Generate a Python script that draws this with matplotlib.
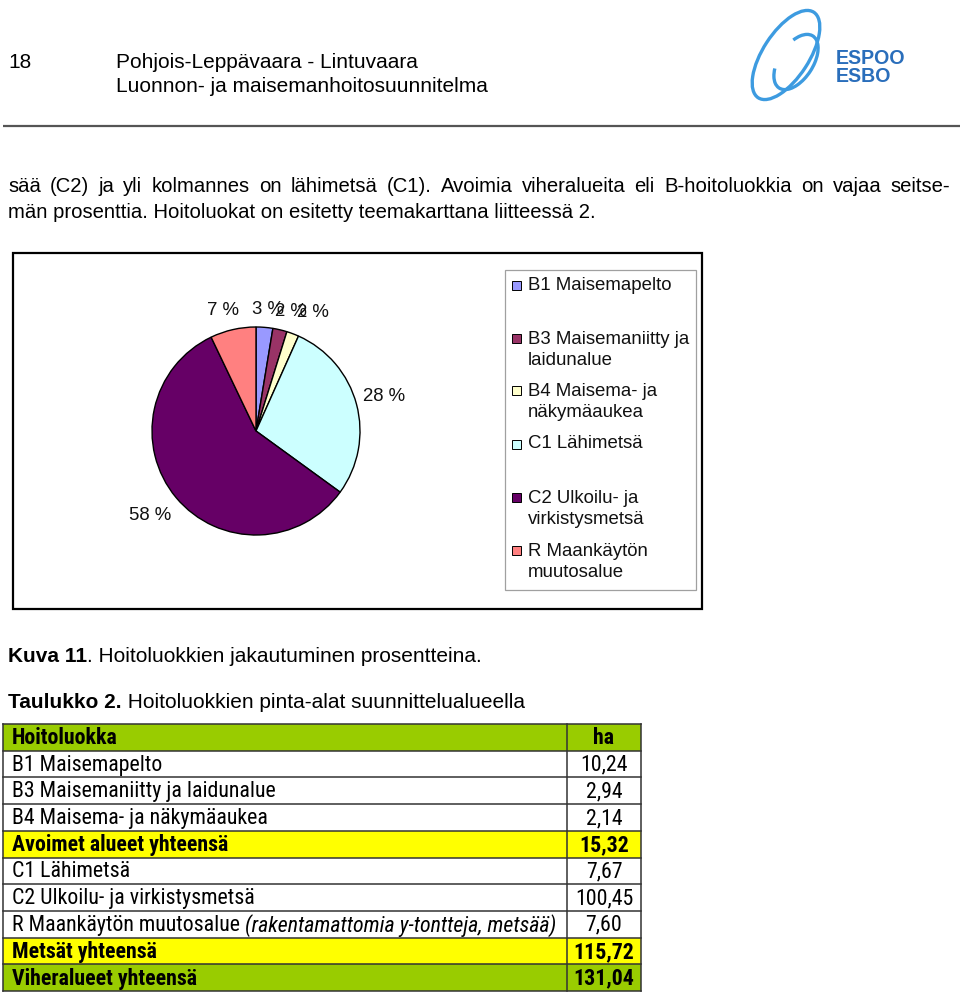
import matplotlib
matplotlib.use("Agg")
import matplotlib.pyplot as plt
from matplotlib.patches import Rectangle, Ellipse, Arc
from matplotlib import font_manager as fm

# ---------------- data ----------------
pie_categories = ["B1 Maisemapelto", "B3 Maisemaniitty ja\nlaidunalue", "B4 Maisema- ja\nnäkymäaukea",
                  "C1 Lähimetsä", "C2 Ulkoilu- ja\nvirkistysmetsä", "R Maankäytön\nmuutosalue"]
pie_values = [2.6, 2.2, 1.9, 28.3, 57.9, 7.1]
pie_labels = ["3 %", "2 %", "2 %", "28 %", "58 %", "7 %"]
pie_colors = ["#9999FF", "#993366", "#FFFFCC", "#CCFFFF", "#660066", "#FF8080"]

table_header = ["Hoitoluokka", "ha"]
table_rows = ["B1 Maisemapelto", "B3 Maisemaniitty ja laidunalue", "B4 Maisema- ja näkymäaukea",
              "Avoimet alueet yhteensä", "C1 Lähimetsä", "C2 Ulkoilu- ja virkistysmetsä",
              "R Maankäytön muutosalue", "Metsät yhteensä", "Viheralueet yhteensä"]
table_notes = ["", "", "", "", "", "", " (rakentamattomia y-tontteja, metsää)", "", ""]
table_ha = [10.24, 2.94, 2.14, 15.32, 7.67, 100.45, 7.60, 115.72, 131.04]
table_kind = ["n", "n", "n", "sub", "n", "n", "n", "sub", "tot"]

W, H = 960, 994
fig = plt.figure(figsize=(W / 100, H / 100), dpi=100)
ax = fig.add_axes([0, 0, 1, 1])
ax.set_xlim(0, W)
ax.set_ylim(H, 0)
ax.axis("off")
renderer = fig.canvas.get_renderer()

SANS = dict(family=["Liberation Sans", "DejaVu Sans"])


def find_narrow():
    for fam in ["Liberation Sans Narrow", "Arial Narrow", "DejaVu Sans Condensed", "Roboto Condensed",
                "Open Sans Condensed", "Noto Sans Condensed"]:
        try:
            fm.findfont(fm.FontProperties(family=fam), fallback_to_default=False)
            return dict(family=[fam, "DejaVu Sans"])
        except Exception:
            pass
    for fam in ["Noto Sans", "Open Sans", "DejaVu Sans", "Roboto"]:
        try:
            p = fm.findfont(fm.FontProperties(family=fam, stretch="condensed"), fallback_to_default=False)
            if "ondensed" in p or "arrow" in p:
                return dict(family=[fam, "DejaVu Sans"], stretch="condensed")
        except Exception:
            pass
    return SANS


NARROW = find_narrow()


def width_of(s, size, fd=SANS, weight="normal", style="normal"):
    t = ax.text(0, 0, s, fontsize=size, fontweight=weight, fontstyle=style, **fd)
    w = t.get_window_extent(renderer).width
    t.remove()
    return w


def fit(s, target, fd=SANS, weight="normal"):
    return 10 * target / width_of(s, 10, fd, weight)


def runs(x, y, parts, size, fd=SANS, color="black"):
    cx = x
    for s, w, st in parts:
        t = ax.text(cx, y, s, fontsize=size, fontweight=w, fontstyle=st,
                    va="center", ha="left", color=color, **fd)
        cx += t.get_window_extent(renderer).width
    return cx


# ---------------- header ----------------
hsize = fit("Pohjois-Leppävaara - Lintuvaara", 302)
ax.text(8, 63, "18", fontsize=hsize, va="center", **SANS)
ax.text(116, 63, "Pohjois-Leppävaara - Lintuvaara", fontsize=hsize, va="center", **SANS)
ax.text(116, 87, "Luonnon- ja maisemanhoitosuunnitelma", fontsize=hsize, va="center", **SANS)
ax.plot([3, 960], [125.5, 125.5], color="#555555", lw=1.6, solid_capstyle="butt")

# logo
logo_c = "#3D9BE0"
ax.add_patch(Ellipse((786, 55), 102, 46, angle=-57, fill=False, ec=logo_c, lw=2.4))
ax.add_patch(Arc((796, 62), 62, 34, angle=-57, theta1=-40, theta2=220, ec=logo_c, lw=2.4))
lsize = fit("ESPOO", 70, weight="bold")
ax.text(836, 58, "ESPOO", fontsize=lsize, fontweight="bold", color="#2A6EBB", va="center", **SANS)
ax.text(836, 77, "ESBO", fontsize=lsize, fontweight="bold", color="#2A6EBB", va="center", **SANS)

# ---------------- body text ----------------
bsize = fit("män prosenttia. Hoitoluokat on esitetty teemakarttana liitteessä 2.", 589)
line1 = "sää (C2) ja yli kolmannes on lähimetsä (C1). Avoimia viheralueita eli B-hoitoluokkia on vajaa seitse-"
words = line1.split(" ")
ws = [width_of(w_, bsize) for w_ in words]
gap = (942 - sum(ws)) / (len(words) - 1)
cx = 8
for w_, wd in zip(words, ws):
    ax.text(cx, 187, w_, fontsize=bsize, va="center", **SANS)
    cx += wd + gap
ax.text(8, 212, "män prosenttia. Hoitoluokat on esitetty teemakarttana liitteessä 2.",
        fontsize=bsize, va="center", **SANS)

# ---------------- chart frame ----------------
ax.add_patch(Rectangle((13, 253), 702 - 13, 609 - 253, fill=False, ec="black", lw=1.6))
ax.add_patch(Rectangle((505, 270), 696 - 505, 590 - 270, fill=False, ec="#A0A0A0", lw=0.9))

legsize = fit("B1 Maisemapelto", 144)
leg_y = [285, 350, 402, 444, 509, 562]
for cat, col, yy in zip(pie_categories, pie_colors, leg_y):
    nlines = cat.count("\n") + 1
    top = yy - (nlines - 1) * 11.5
    ax.add_patch(Rectangle((512, top - 4.5), 9, 9, fc=col, ec="black", lw=0.7))
    ax.text(528, yy, cat, fontsize=legsize, va="center", ha="left",
            linespacing=1.25, color="#111111", **SANS)

R_PX = 104
pax = fig.add_axes([(256 - R_PX) / W, 1 - (431 + R_PX) / H, 2 * R_PX / W, 2 * R_PX / H])
wedges, texts = pax.pie(pie_values, colors=pie_colors, startangle=90, counterclock=False,
                        labels=pie_labels, labeldistance=1.27,
                        wedgeprops=dict(edgecolor="black", linewidth=1.0),
                        textprops=dict(fontsize=legsize, color="#111111", **SANS))
label_nudge_px = [(1, 10), (5, 9), (10, 5), (0, 0), (-4, 0), (-4, 8)]
for t, (dx, dy) in zip(texts, label_nudge_px):
    t.set_ha("center")
    t.set_va("center")
    x, y = t.get_position()
    t.set_position((x + dx / R_PX, y - dy / R_PX))
pax.set_xlim(-1.0, 1.0)
pax.set_ylim(-1.0, 1.0)

# ---------------- captions ----------------
csize = fit("Kuva 11. Hoitoluokkien jakautuminen prosentteina.", 474) * 0.99
runs(8, 656, [("Kuva 11", "bold", "normal"), (". Hoitoluokkien jakautuminen prosentteina.", "normal", "normal")], csize)
runs(8, 702, [("Taulukko 2.", "bold", "normal"), (" Hoitoluokkien pinta-alat suunnittelualueella", "normal", "normal")], csize)

# ---------------- table ----------------
x0, x1, x2 = 3, 567, 641
ytop, rh = 724, 26.7
longest = width_of(table_rows[6], 10, NARROW) + width_of(table_notes[6], 10, NARROW, style="italic")
tsize = min(16.5, 10 * 546 / longest)
fills = {"n": "white", "sub": "#FFFF00", "tot": "#99CC00"}
ax.add_patch(Rectangle((x0, ytop), x2 - x0, rh, fc="#99CC00", ec="none"))
ax.text(12, ytop + rh / 2 + 1, table_header[0], fontsize=tsize, fontweight="bold", va="center", **NARROW)
ax.text((x1 + x2) / 2, ytop + rh / 2 + 1, table_header[1], fontsize=tsize, fontweight="bold",
        va="center", ha="center", **NARROW)
for i, (name, note, val, kind) in enumerate(zip(table_rows, table_notes, table_ha, table_kind)):
    y = ytop + rh * (i + 1)
    ax.add_patch(Rectangle((x0, y), x2 - x0, rh, fc=fills[kind], ec="none"))
    wt = "normal" if kind == "n" else "bold"
    parts = [(name, wt, "normal")]
    if note:
        parts.append((note, "normal", "italic"))
    runs(12, y + rh / 2 + 1, parts, tsize, fd=NARROW)
    ax.text((x1 + x2) / 2, y + rh / 2 + 1, f"{val:.2f}".replace(".", ","), fontsize=tsize,
            fontweight=wt, va="center", ha="center", **NARROW)
nrows = len(table_rows) + 1
for k in range(nrows + 1):
    yy = ytop + rh * k
    ax.plot([x0, x2], [yy, yy], color="#333333", lw=1.1, solid_capstyle="projecting")
for xx in (x0, x1, x2):
    ax.plot([xx, xx], [ytop, ytop + rh * nrows], color="#333333", lw=1.1)

fig.savefig("out.png", dpi=100)
